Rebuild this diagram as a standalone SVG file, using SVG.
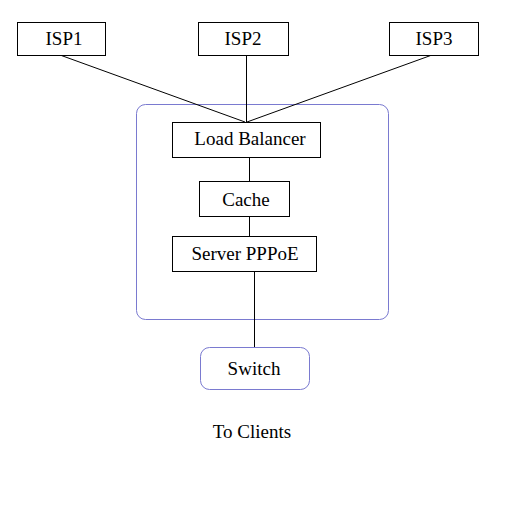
<svg xmlns="http://www.w3.org/2000/svg" width="513" height="513" viewBox="0 0 513 513">
<style>
.box{fill:#fff;stroke:#000;stroke-width:1}
.rbox{fill:none;stroke:#7a7ad0;stroke-width:1}
.ln{stroke:#000;stroke-width:1;fill:none}
text{font-family:"Liberation Serif","Times New Roman",serif;font-size:19px;fill:#000;text-anchor:middle}
</style>
<rect width="513" height="513" fill="#fff"/>
<g id="container"><rect class="rbox" x="136.5" y="104.5" width="252" height="215" rx="9"/></g>
<g id="connectors">
<line class="ln" x1="60" y1="55" x2="245" y2="122"/>
<line class="ln" x1="246.5" y1="55" x2="246.5" y2="122"/>
<line class="ln" x1="432" y1="55" x2="247" y2="122"/>
<line class="ln" x1="249.5" y1="157" x2="249.5" y2="181"/>
<line class="ln" x1="249.5" y1="216" x2="249.5" y2="236"/>
<line class="ln" x1="254.5" y1="271" x2="254.5" y2="347"/>
</g>
<g id="isp1"><rect class="box" x="17.5" y="22.5" width="88" height="33"/><text x="64" y="45">ISP1</text></g>
<g id="isp2"><rect class="box" x="198.5" y="22.5" width="90" height="33"/><text x="243" y="45">ISP2</text></g>
<g id="isp3"><rect class="box" x="389.5" y="22.5" width="89" height="33"/><text x="434" y="45">ISP3</text></g>
<g id="lb"><rect class="box" x="172.5" y="122.5" width="148" height="35"/><text x="250" y="145">Load Balancer</text></g>
<g id="cache"><rect class="box" x="199.5" y="181.5" width="90" height="35"/><text x="246" y="206">Cache</text></g>
<g id="server"><rect class="box" x="172.5" y="236.5" width="144" height="35"/><text x="245" y="260">Server PPPoE</text></g>
<g id="switch"><rect class="rbox" x="200.5" y="347.5" width="109" height="42" rx="9"/><text x="254" y="375">Switch</text></g>
<g id="clients"><text x="252" y="438">To Clients</text></g>
</svg>
